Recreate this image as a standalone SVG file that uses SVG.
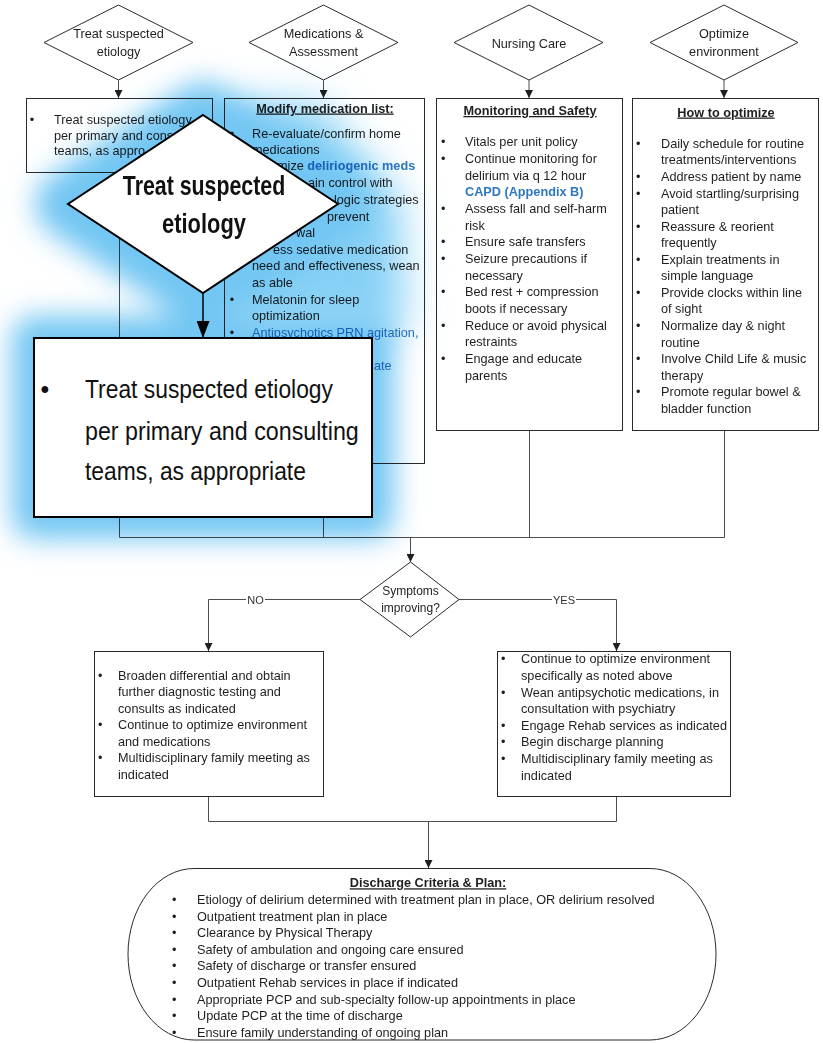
<svg xmlns="http://www.w3.org/2000/svg" width="823" height="1043" viewBox="0 0 823 1043">
<defs>
<style>
text{font-family:"Liberation Sans",Arial,sans-serif;font-size:12.7px;fill:#1f1f1f}
.c{text-anchor:middle}
.h{font-weight:bold;text-decoration:underline}
.bl{fill:#2e78c0}
.bb{fill:#2e78c0;font-weight:bold}
.shape{fill:#fff;stroke:#2b2b2b;stroke-width:1}
.wire{fill:none;stroke:#4d4d4d;stroke-width:1}
.arrow{marker-end:url(#arr)}
.lbl{font-size:11px;fill:#333}
.dec{font-size:12px}
.zoom{fill:#fff;stroke:#000;stroke-width:2}
.zt{font-size:25px;fill:#111}
.zh{font-size:27px;font-weight:bold;fill:#111;text-anchor:middle}
.glow{fill:#72c6f3;stroke:#72c6f3;stroke-linejoin:round}
</style>
<marker id="arr" viewBox="0 0 10 10" refX="10" refY="5" markerWidth="8" markerHeight="8" markerUnits="userSpaceOnUse" orient="auto"><path d="M0,0 L10,5 L0,10 z" fill="#1f1f1f"/></marker>
<marker id="arrBig" viewBox="0 0 17 13" refX="17" refY="6.5" markerWidth="17" markerHeight="13" markerUnits="userSpaceOnUse" orient="auto"><path d="M0,0 L17,6.5 L0,13 z" fill="#000"/></marker>
<filter id="halo" x="-40%" y="-40%" width="180%" height="180%"><feGaussianBlur stdDeviation="14"/></filter>
<filter id="haloWide" x="-50%" y="-50%" width="200%" height="200%"><feGaussianBlur stdDeviation="20"/></filter>
</defs>
<rect width="823" height="1043" fill="#fff"/>

<!-- connectors -->
<g id="connectors">
<path class="wire arrow" d="M118.5,80 V98"/>
<path class="wire arrow" d="M323.5,80 V98"/>
<path class="wire arrow" d="M529,80 V98"/>
<path class="wire arrow" d="M724,80 V98"/>
<path class="wire" d="M119.5,172 V537.5 M323.5,463 V537.5 M529.5,430 V537.5 M724.5,430 V537.5 M119.5,537.5 H724.5"/>
<path class="wire arrow" d="M410.5,537.5 V562"/>
<path class="wire" d="M360,599.5 H265"/>
<path class="wire arrow" d="M246,599.5 H208.5 V651"/>
<path class="wire" d="M459,599.5 H552"/>
<path class="wire arrow" d="M576,599.5 H616.5 V651"/>
<text class="lbl c" x="255.5" y="603.5">NO</text>
<text class="lbl c" x="564" y="603.5">YES</text>
<path class="wire" d="M208.5,796 V821.5 H616.5 V796"/>
<path class="wire arrow" d="M428.5,821.5 V868"/>
</g>

<!-- header decisions -->
<g id="hdr-etiology">
<polygon class="shape" points="118.5,5 193,42.5 118.5,80 44,42.5"/>
<text class="c" x="118.5" y="37.8">Treat suspected</text>
<text class="c" x="118.5" y="56.2">etiology</text>
</g>
<g id="hdr-meds">
<polygon class="shape" points="323.5,5 398,42.5 323.5,80 249,42.5"/>
<text class="c" x="323.5" y="37.8">Medications &amp;</text>
<text class="c" x="323.5" y="56.2">Assessment</text>
</g>
<g id="hdr-nursing">
<polygon class="shape" points="529,5 603,42.5 529,80 454,42.5"/>
<text class="c" x="529" y="47.8">Nursing Care</text>
</g>
<g id="hdr-environment">
<polygon class="shape" points="724,5 798,42.5 724,80 650,42.5"/>
<text class="c" x="724" y="37.8">Optimize</text>
<text class="c" x="724" y="56.2">environment</text>
</g>

<!-- column boxes -->
<g id="box-etiology">
<rect class="shape" x="26.5" y="98.5" width="186" height="74"/>
<text x="29.8" y="123.8">•</text>
<text x="54" y="123.8">Treat suspected etiology</text>
<text x="54" y="139.5">per primary and cons</text>
<text x="54" y="155.2">teams, as appro</text>
</g>

<g id="box-meds">
<rect class="shape" x="224.5" y="98.5" width="200" height="365"/>
<text class="h c" x="325" y="112.5">Modify medication list:</text>
<text x="229.8" y="137.5">•</text>
<text x="252" y="137.5">Re-evaluate/confirm home</text>
<text x="252" y="154.1">medications</text>
<text x="277" y="169.7">mize <tspan class="bb">deliriogenic meds</tspan></text>
<text x="308" y="187.3">ain control with</text>
<text x="334" y="203.9">logic strategies</text>
<text x="327" y="220.5">prevent</text>
<text x="296" y="237.1">wal</text>
<text x="273" y="253.7">ess sedative medication</text>
<text x="252" y="270.3">need and effectiveness, wean</text>
<text x="252" y="286.9">as able</text>
<text x="229.8" y="303.5">•</text>
<text x="252" y="303.5">Melatonin for sleep</text>
<text x="252" y="320.1">optimization</text>
<text x="229.8" y="336.7">•</text>
<text class="bl" x="252" y="336.7">Antipsychotics PRN agitation,</text>
<text class="bl" x="374" y="369.9">ate</text>
</g>

<g id="box-nursing">
<rect class="shape" x="436.5" y="98.5" width="186" height="332"/>
<text class="h c" x="530" y="115">Monitoring and Safety</text>
<text x="441" y="146.2">•</text><text x="465" y="146.2">Vitals per unit policy</text>
<text x="441" y="162.9">•</text><text x="465" y="162.9">Continue monitoring for</text>
<text x="465" y="179.5">delirium via q 12 hour</text>
<text class="bb" x="465" y="196.2">CAPD (Appendix B)</text>
<text x="441" y="212.9">•</text><text x="465" y="212.9">Assess fall and self-harm</text>
<text x="465" y="229.5">risk</text>
<text x="441" y="246.2">•</text><text x="465" y="246.2">Ensure safe transfers</text>
<text x="441" y="262.9">•</text><text x="465" y="262.9">Seizure precautions if</text>
<text x="465" y="279.5">necessary</text>
<text x="441" y="296.2">•</text><text x="465" y="296.2">Bed rest + compression</text>
<text x="465" y="312.9">boots if necessary</text>
<text x="441" y="329.5">•</text><text x="465" y="329.5">Reduce or avoid physical</text>
<text x="465" y="346.2">restraints</text>
<text x="441" y="362.9">•</text><text x="465" y="362.9">Engage and educate</text>
<text x="465" y="379.5">parents</text>
</g>

<g id="box-environment">
<rect class="shape" x="632.5" y="98.5" width="186" height="332"/>
<text class="h c" x="726" y="116.5">How to optimize</text>
<text x="636" y="147.8">•</text><text x="661" y="147.8">Daily schedule for routine</text>
<text x="661" y="164.4">treatments/interventions</text>
<text x="636" y="180.9">•</text><text x="661" y="180.9">Address patient by name</text>
<text x="636" y="197.5">•</text><text x="661" y="197.5">Avoid startling/surprising</text>
<text x="661" y="214">patient</text>
<text x="636" y="230.6">•</text><text x="661" y="230.6">Reassure &amp; reorient</text>
<text x="661" y="247.2">frequently</text>
<text x="636" y="263.7">•</text><text x="661" y="263.7">Explain treatments in</text>
<text x="661" y="280.3">simple language</text>
<text x="636" y="296.8">•</text><text x="661" y="296.8">Provide clocks within line</text>
<text x="661" y="313.4">of sight</text>
<text x="636" y="330">•</text><text x="661" y="330">Normalize day &amp; night</text>
<text x="661" y="346.5">routine</text>
<text x="636" y="363.1">•</text><text x="661" y="363.1">Involve Child Life &amp; music</text>
<text x="661" y="379.6">therapy</text>
<text x="636" y="396.2">•</text><text x="661" y="396.2">Promote regular bowel &amp;</text>
<text x="661" y="412.8">bladder function</text>
</g>

<!-- decision -->
<g id="dec-symptoms">
<polygon class="shape" points="410.5,562 459,599.5 410.5,637 360,599.5"/>
<text class="dec c" x="410.5" y="595">Symptoms</text>
<text class="dec c" x="410.5" y="611.5">improving?</text>
</g>

<g id="box-no">
<rect class="shape" x="94.5" y="651.5" width="229" height="145"/>
<text x="98" y="679.5">•</text><text x="118" y="679.5">Broaden differential and obtain</text>
<text x="118" y="696">further diagnostic testing and</text>
<text x="118" y="712.5">consults as indicated</text>
<text x="98" y="729">•</text><text x="118" y="729">Continue to optimize environment</text>
<text x="118" y="745.5">and medications</text>
<text x="98" y="762">•</text><text x="118" y="762">Multidisciplinary family meeting as</text>
<text x="118" y="778.5">indicated</text>
</g>

<g id="box-yes">
<rect class="shape" x="497.5" y="651.5" width="233" height="145"/>
<text x="501" y="663.4">•</text><text x="521" y="663.4">Continue to optimize environment</text>
<text x="521" y="680">specifically as noted above</text>
<text x="501" y="696.6">•</text><text x="521" y="696.6">Wean antipsychotic medications, in</text>
<text x="521" y="713.2">consultation with psychiatry</text>
<text x="501" y="729.8">•</text><text x="521" y="729.8">Engage Rehab services as indicated</text>
<text x="501" y="746.4">•</text><text x="521" y="746.4">Begin discharge planning</text>
<text x="501" y="763">•</text><text x="521" y="763">Multidisciplinary family meeting as</text>
<text x="521" y="779.6">indicated</text>
</g>

<g id="discharge">
<path class="shape" d="M194,868.5 H650 A66,85.75 0 0 1 650,1040 H194 A66,85.75 0 0 1 194,868.5 Z"/>
<text class="h c" x="428" y="887.3">Discharge Criteria &amp; Plan:</text>
<text x="172" y="903.9">•</text><text x="197" y="903.9">Etiology of delirium determined with treatment plan in place, OR delirium resolved</text>
<text x="172" y="920.5">•</text><text x="197" y="920.5">Outpatient treatment plan in place</text>
<text x="172" y="937.1">•</text><text x="197" y="937.1">Clearance by Physical Therapy</text>
<text x="172" y="953.7">•</text><text x="197" y="953.7">Safety of ambulation and ongoing care ensured</text>
<text x="172" y="970.3">•</text><text x="197" y="970.3">Safety of discharge or transfer ensured</text>
<text x="172" y="986.9">•</text><text x="197" y="986.9">Outpatient Rehab services in place if indicated</text>
<text x="172" y="1003.5">•</text><text x="197" y="1003.5">Appropriate PCP and sub-specialty follow-up appointments in place</text>
<text x="172" y="1020.1">•</text><text x="197" y="1020.1">Update PCP at the time of discharge</text>
<text x="172" y="1036.7">•</text><text x="197" y="1036.7">Ensure family understanding of ongoing plan</text>
</g>

<!-- enlarged callout of the etiology step, with its soft blue halo -->
<g id="callout-halo" style="mix-blend-mode:multiply">
<polygon filter="url(#haloWide)" fill="#86d0f6" points="222,104 318,104 400,200 404,332 222,332"/>
<g filter="url(#halo)">
<polygon class="glow" stroke-width="66" points="203,115 338,204 203,293 68,204"/>
<rect class="glow" stroke-width="44" x="34" y="338" width="338" height="179"/>
</g>
</g>
<g id="callout-link">
<path d="M203,293 V338" fill="none" stroke="#000" stroke-width="1.5" marker-end="url(#arrBig)"/>
</g>
<g id="callout-decision">
<polygon class="zoom" points="203,115 338,204 203,293 68,204"/>
<text class="zh" transform="translate(204,195) scale(0.79,1)">Treat suspected</text>
<text class="zh" transform="translate(204,233) scale(0.81,1)">etiology</text>
</g>
<g id="callout-box">
<rect class="zoom" x="34" y="338" width="338" height="179"/>
<text class="zt" x="40.5" y="398">•</text>
<text class="zt" transform="translate(85,398) scale(0.914,1)">Treat suspected etiology</text>
<text class="zt" transform="translate(85,440) scale(0.93,1)">per primary and consulting</text>
<text class="zt" transform="translate(85,480) scale(0.914,1)">teams, as appropriate</text>
</g>
</svg>
